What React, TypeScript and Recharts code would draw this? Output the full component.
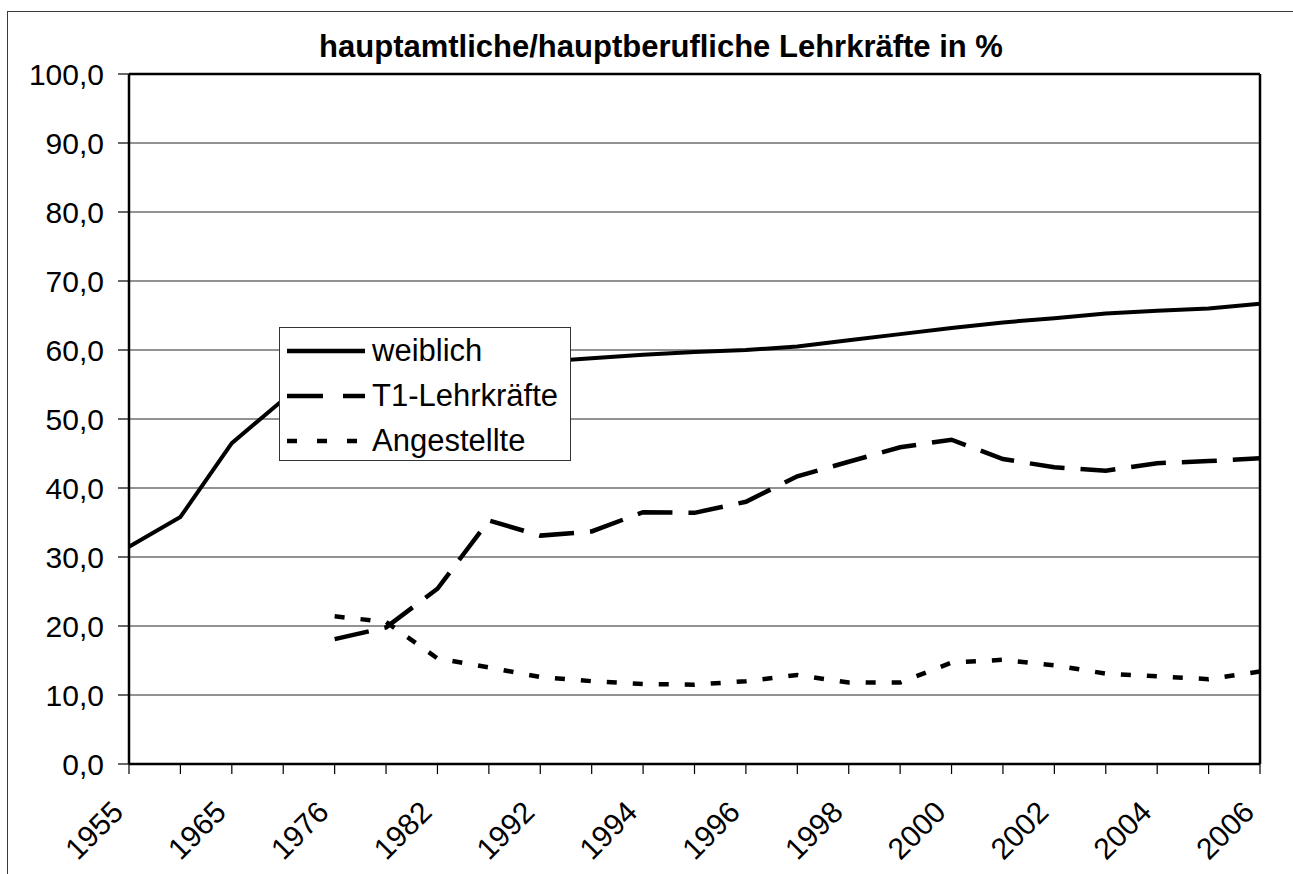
import React from 'react';
import { LineChart, Line, XAxis, YAxis, CartesianGrid, ReferenceLine } from 'recharts';

const years = ['1955', '1960', '1965', '1970', '1976', '1979', '1982', '1990', '1992', '1993', '1994', '1995', '1996', '1997', '1998', '1999', '2000', '2001', '2002', '2003', '2004', '2005', '2006'];
const labeledYears = ['1955', '1965', '1976', '1982', '1992', '1994', '1996', '1998', '2000', '2002', '2004', '2006'];

const weiblich = [31.5, 35.8, 46.5, 52.8, 55.5, 56.8, 57.5, 58.0, 58.3, 58.8, 59.3, 59.7, 60.0, 60.5, 61.4, 62.3, 63.2, 64.0, 64.6, 65.3, 65.7, 66.0, 66.7];
const t1Lehrkraefte = [null, null, null, null, 18.1, 19.8, 25.4, 35.3, 33.1, 33.7, 36.5, 36.4, 38.0, 41.7, 43.8, 45.9, 47.0, 44.2, 43.0, 42.5, 43.6, 43.9, 44.3];
const angestellte = [null, null, null, null, 21.4, 20.6, 15.3, 14.0, 12.6, 12.0, 11.6, 11.5, 12.0, 12.9, 11.8, 11.8, 14.7, 15.1, 14.3, 13.1, 12.7, 12.3, 13.4];

const yTicks = [0, 10, 20, 30, 40, 50, 60, 70, 80, 90, 100];

const seriesNames = ['weiblich', 'T1-Lehrkräfte', 'Angestellte'];
const title = 'hauptamtliche/hauptberufliche Lehrkräfte in %';

const FONT = '"Liberation Sans", Arial, Helvetica, sans-serif';

const data = years.map((y, i) => ({
  year: y,
  weiblich: weiblich[i],
  t1: t1Lehrkraefte[i],
  angestellte: angestellte[i],
}));

const XTick = (props: any) => {
  const { x, y, payload } = props;
  if (!labeledYears.includes(String(payload.value))) return <g />;
  return (
    <g transform={`translate(${x - 4},${y + 40})`}>
      <text
        textAnchor="end"
        transform="rotate(-45)"
        fontSize={30}
        fontFamily={FONT}
        fill="#000"
      >
        {payload.value}
      </text>
    </g>
  );
};

const legendItems = [
  { name: seriesNames[0], dash: undefined as string | undefined },
  { name: seriesNames[1], dash: '36 20' },
  { name: seriesNames[2], dash: '10 20' },
];

export default function App() {
  return (
    <div
      style={{
        position: 'fixed',
        left: 0,
        top: 0,
        width: 1293,
        height: 874,
        overflow: 'hidden',
        background: '#fff',
        fontFamily: FONT,
      }}
    >
      <div
        style={{
          position: 'absolute',
          left: 7,
          top: 11,
          width: 2000,
          height: 2000,
          borderLeft: '1.5px solid #3a3a3a',
          borderTop: '1.5px solid #3a3a3a',
        }}
      />
      <div style={{ position: 'absolute', left: 0, top: 0 }}>
        <LineChart
          width={1293}
          height={874}
          data={data}
          margin={{ top: 74, right: 33, bottom: 10, left: 29 }}
        >
          <CartesianGrid vertical={false} stroke="#6e6e6e" strokeWidth={1.3} />
          <XAxis
            dataKey="year"
            type="category"
            interval={0}
            height={100}
            tickSize={10}
            tickMargin={0}
            axisLine={{ stroke: '#000', strokeWidth: 2.5 }}
            tickLine={{ stroke: '#000', strokeWidth: 1.2 }}
            tick={<XTick />}
          />
          <YAxis
            type="number"
            domain={[0, 100]}
            ticks={yTicks}
            interval={0}
            width={100}
            tickSize={11}
            tickMargin={14}
            axisLine={{ stroke: '#000', strokeWidth: 2.5 }}
            tickLine={{ stroke: '#000', strokeWidth: 1.2 }}
            tick={{ fontSize: 30, fill: '#000', fontFamily: FONT }}
            tickFormatter={(v: number) => v.toFixed(1).replace('.', ',')}
          />
          <ReferenceLine y={100} stroke="#000" strokeWidth={2.5} />
          <ReferenceLine x="2006" stroke="#000" strokeWidth={2.5} />
          <Line
            type="linear"
            dataKey="weiblich"
            name={seriesNames[0]}
            stroke="#000"
            strokeWidth={4}
            dot={false}
            activeDot={false}
            isAnimationActive={false}
          />
          <Line
            type="linear"
            dataKey="t1"
            name={seriesNames[1]}
            stroke="#000"
            strokeWidth={4.5}
            strokeDasharray="35 16"
            dot={false}
            activeDot={false}
            isAnimationActive={false}
          />
          <Line
            type="linear"
            dataKey="angestellte"
            name={seriesNames[2]}
            stroke="#000"
            strokeWidth={4.5}
            strokeDasharray="10 16"
            dot={false}
            activeDot={false}
            isAnimationActive={false}
          />
        </LineChart>
      </div>
      <div
        style={{
          position: 'absolute',
          left: 0,
          top: 29,
          width: 1322,
          textAlign: 'center',
          fontSize: 31,
          fontWeight: 'bold',
          color: '#000',
          whiteSpace: 'nowrap',
        }}
      >
        {title}
      </div>
      <div
        style={{
          position: 'absolute',
          left: 279,
          top: 327,
          width: 292,
          height: 134,
          boxSizing: 'border-box',
          border: '1px solid #333',
          background: '#fff',
        }}
      >
        {legendItems.map((it, i) => (
          <div
            key={it.name}
            style={{
              position: 'absolute',
              left: 0,
              top: i * 45,
              height: 45,
              width: 290,
              display: 'flex',
              alignItems: 'center',
            }}
          >
            <svg width={78} height={10} style={{ marginLeft: 7, display: 'block' }}>
              <line
                x1={0}
                y1={5}
                x2={78}
                y2={5}
                stroke="#000"
                strokeWidth={4.5}
                strokeDasharray={it.dash}
              />
            </svg>
            <span style={{ marginLeft: 7, fontSize: 31, color: '#000', lineHeight: 1 }}>{it.name}</span>
          </div>
        ))}
      </div>
    </div>
  );
}
